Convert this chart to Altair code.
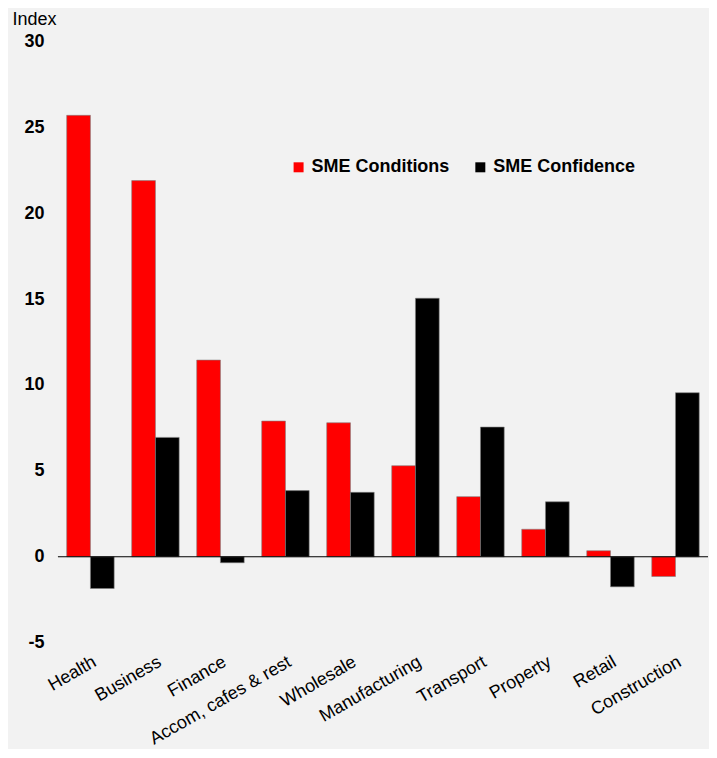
import altair as alt
import pandas as pd

categories = ["Health", "Business", "Finance", "Accom, cafes & rest", "Wholesale",
              "Manufacturing", "Transport", "Property", "Retail", "Construction"]
conditions = [25.7, 21.9, 11.45, 7.9, 7.8, 5.3, 3.5, 1.6, 0.35, -1.15]
confidence = [-1.85, 6.95, -0.35, 3.85, 3.75, 15.05, 7.55, 3.2, -1.75, 9.55]
series = ["SME Conditions", "SME Confidence"]
y_ticks = [-5, 0, 5, 10, 15, 20, 25, 30]

rows = []
for c, a, b in zip(categories, conditions, confidence):
    rows.append({"cat": c, "series": series[0], "value": a})
    rows.append({"cat": c, "series": series[1], "value": b})
df = pd.DataFrame(rows)

FONT = "Liberation Sans"

bars = alt.Chart(df).mark_bar(stroke="#7f7f7f", strokeWidth=0.6).encode(
    x=alt.X("cat:N", sort=categories,
            scale=alt.Scale(paddingInner=0.27, paddingOuter=0.135),
            axis=alt.Axis(title=None, labelAngle=-30, labelAlign="right",
                          labelBaseline="top", labelFontSize=18, labelFont=FONT,
                          labelColor="black", labelPadding=10, ticks=False,
                          domain=False, grid=False, labelOverlap=False)),
    xOffset=alt.XOffset("series:N", sort=series),
    y=alt.Y("value:Q", scale=alt.Scale(domain=[-5, 30], nice=False),
            axis=alt.Axis(values=y_ticks, labelExpr="'' + datum.value",
                          title="Index", titleAngle=0,
                          titleAlign="left", titleBaseline="bottom",
                          titleX=-46, titleY=-13, titleFont=FONT,
                          titleFontSize=18, titleFontWeight="normal",
                          titleColor="black",
                          labelFont=FONT, labelFontSize=18, labelFontWeight="bold",
                          labelColor="black", labelPadding=14, ticks=False,
                          domain=False, grid=False)),
    color=alt.Color("series:N", sort=series,
                    scale=alt.Scale(domain=series, range=["#ff0000", "#000000"]),
                    legend=alt.Legend(title=None, orient="none", legendX=232,
                                      legendY=117, direction="horizontal",
                                      symbolType="square", symbolSize=100,
                                      symbolStrokeWidth=0,
                                      labelFont=FONT, labelFontSize=18,
                                      labelFontWeight="bold", labelColor="black",
                                      columnPadding=22, labelOffset=4)),
)

zero = alt.Chart(pd.DataFrame({"z": [0]})).mark_rule(color="black", strokeWidth=1.2).encode(
    y=alt.Y("z:Q")
)

chart = alt.layer(bars, zero).properties(
    width=651, height=602,
    background="#f2f2f2",
    padding={"left": 4, "top": 2, "right": 0, "bottom": 0},
).configure_view(stroke=None)

chart.save("out.html", embed_options={"renderer": "svg", "actions": False})
